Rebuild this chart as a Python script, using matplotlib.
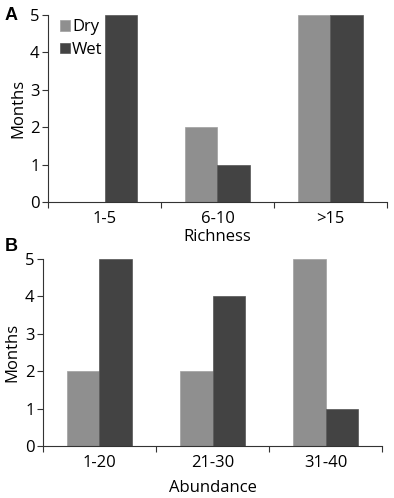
import matplotlib
matplotlib.use("Agg")
import numpy as np
import matplotlib.pyplot as plt

plt.rcParams['font.family'] = ['Open Sans', 'DejaVu Sans']

# data
richness_cats = ['1-5', '6-10', '>15']
richness_dry = [0, 2, 5]
richness_wet = [5, 1, 5]

abundance_cats = ['1-20', '21-30', '31-40']
abundance_dry = [2, 2, 5]
abundance_wet = [5, 4, 1]

dry_color = '#8f8f8f'
wet_color = '#434343'
spine_color = '#333333'


def draw_panel(ax, cats, dry, wet, xlabel, xpad, legend=False):
    x = np.arange(len(cats))
    w = 0.288
    ax.bar(x - w / 2, dry, w, color=dry_color, edgecolor='#a0a0a0', linewidth=0.5, label='Dry')
    ax.bar(x + w / 2, wet, w, color=wet_color, edgecolor='#555555', linewidth=0.5, label='Wet')
    ax.set_xlim(-0.5, len(cats) - 0.5)
    ax.set_ylim(0, 5)
    ax.set_yticks(range(6))
    ax.set_xticks(np.arange(len(cats) + 1) - 0.5)
    ax.set_xticklabels([])
    ax.set_xticks(x, minor=True)
    ax.set_xticklabels(cats, minor=True)
    ax.tick_params(axis='x', which='major', length=4, direction='out', color=spine_color)
    ax.tick_params(axis='x', which='minor', length=0, labelsize=12, pad=6)
    ax.tick_params(axis='y', length=4, direction='out', labelsize=12, color=spine_color, pad=2)
    for s in ['top', 'right']:
        ax.spines[s].set_visible(False)
    for s in ['left', 'bottom']:
        ax.spines[s].set_color(spine_color)
        ax.spines[s].set_linewidth(0.8)
    ax.set_ylabel('Months', fontsize=12, labelpad=3)
    ax.set_xlabel(xlabel, fontsize=12, labelpad=xpad)
    if legend:
        ax.legend(loc='upper left', bbox_to_anchor=(0.0, 1.04), frameon=False,
                  fontsize=12, handlelength=0.6, handleheight=0.6,
                  handletextpad=0.15, labelspacing=0.4, borderaxespad=0.3)


fig = plt.figure(figsize=(3.94, 4.98), dpi=100)
ax1 = fig.add_axes([0.122, 0.594, 0.860, 0.376])
ax2 = fig.add_axes([0.109, 0.104, 0.861, 0.376])

draw_panel(ax1, richness_cats, richness_dry, richness_wet, 'Richness', 2)
draw_panel(ax2, abundance_cats, abundance_dry, abundance_wet, 'Abundance', 7)
ax1.legend(loc='upper left', bbox_to_anchor=(0.0, 1.04), frameon=False,
           fontsize=12, handlelength=0.6, handleheight=0.6,
           handletextpad=0.15, labelspacing=0.4, borderaxespad=0.3)

fig.text(0.012, 0.968, 'A', fontsize=13, fontweight='bold', va='center', family=['Liberation Sans', 'DejaVu Sans'])
fig.text(0.012, 0.505, 'B', fontsize=13, fontweight='bold', va='center', family=['Liberation Sans', 'DejaVu Sans'])

fig.savefig('out.png', dpi=100)
